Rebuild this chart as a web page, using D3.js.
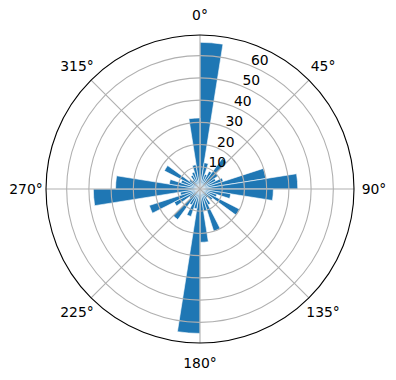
<!DOCTYPE html>
<html>
<head>
<meta charset="utf-8">
<script src="https://cdn.jsdelivr.net/npm/d3@7"></script>
<style>
  html, body { margin: 0; padding: 0; background: #fff; }
  svg text { font-family: 'DejaVu Sans', sans-serif; font-size: 13.9px; fill: #000; }
</style>
</head>
<body>
<div id="chart"></div>
<script>
// 40 direction bins, 9 degrees each, starting at north and going clockwise
const binWidth = 9;
const binStarts = d3.range(0, 360, binWidth);
const counts = [
  66, 12, 7, 9, 17, 10, 8, 11, 30, 44,
  33, 14, 8, 20, 7, 5, 8, 20, 10, 24,
  65, 9, 13, 8, 17, 6, 13, 24, 9, 48,
  38, 14, 9, 18, 6, 5, 7, 8, 11, 32,
];
const radialTicks = [10, 20, 30, 40, 50, 60];
const angleTicks = [0, 45, 90, 135, 180, 225, 270, 315];

const width = 396;
const height = 380;
const center = [200, 189];
const outer = 154;
const rMax = 69.3;

const svg = d3
  .select('#chart')
  .append('svg')
  .attr('width', width)
  .attr('height', height);

const g = svg
  .append('g')
  .attr('transform', `translate(${center[0]},${center[1]})`);

const r = d3.scaleLinear().domain([0, rMax]).range([0, outer]);
const a = d3.scaleLinear().domain([0, 360]).range([0, 2 * Math.PI]);

// bars
const arc = d3
  .arc()
  .innerRadius(0)
  .outerRadius((d) => r(d.value))
  .startAngle((d) => a(d.start))
  .endAngle((d) => a(d.start + binWidth));

g.append('g')
  .selectAll('path')
  .data(binStarts.map((start, i) => ({ start, value: counts[i] })))
  .join('path')
  .attr('d', arc)
  .attr('fill', '#1f77b4')
  .attr('stroke', '#fff')
  .attr('stroke-width', 0.6);

// grid sits on top of the bars, like matplotlib's polar default
const grid = g.append('g').attr('stroke', '#b0b0b0').attr('stroke-width', 1.1).attr('fill', 'none');

grid
  .selectAll('circle')
  .data(radialTicks)
  .join('circle')
  .attr('r', (d) => r(d));

grid
  .selectAll('line')
  .data(angleTicks)
  .join('line')
  .attr('x1', 0)
  .attr('y1', 0)
  .attr('x2', (d) => outer * Math.sin(a(d)))
  .attr('y2', (d) => -outer * Math.cos(a(d)));

// frame
g.append('circle')
  .attr('r', outer)
  .attr('fill', 'none')
  .attr('stroke', '#000')
  .attr('stroke-width', 1.1);

// angle labels
g.append('g')
  .selectAll('text')
  .data(angleTicks)
  .join('text')
  .attr('x', (d) => 174 * Math.sin(a(d)))
  .attr('y', (d) => -174 * Math.cos(a(d)))
  .attr('text-anchor', 'middle')
  .attr('dominant-baseline', 'central')
  .text((d) => d + '°');

// radial labels at 22.5 degrees
const labelAngle = a(22.5);
g.append('g')
  .selectAll('text')
  .data(radialTicks)
  .join('text')
  .attr('x', (d) => r(d) * Math.sin(labelAngle))
  .attr('y', (d) => -r(d) * Math.cos(labelAngle))
  .attr('dy', -1)
  .attr('text-anchor', 'start')
  .text((d) => d);
</script>
</body>
</html>
